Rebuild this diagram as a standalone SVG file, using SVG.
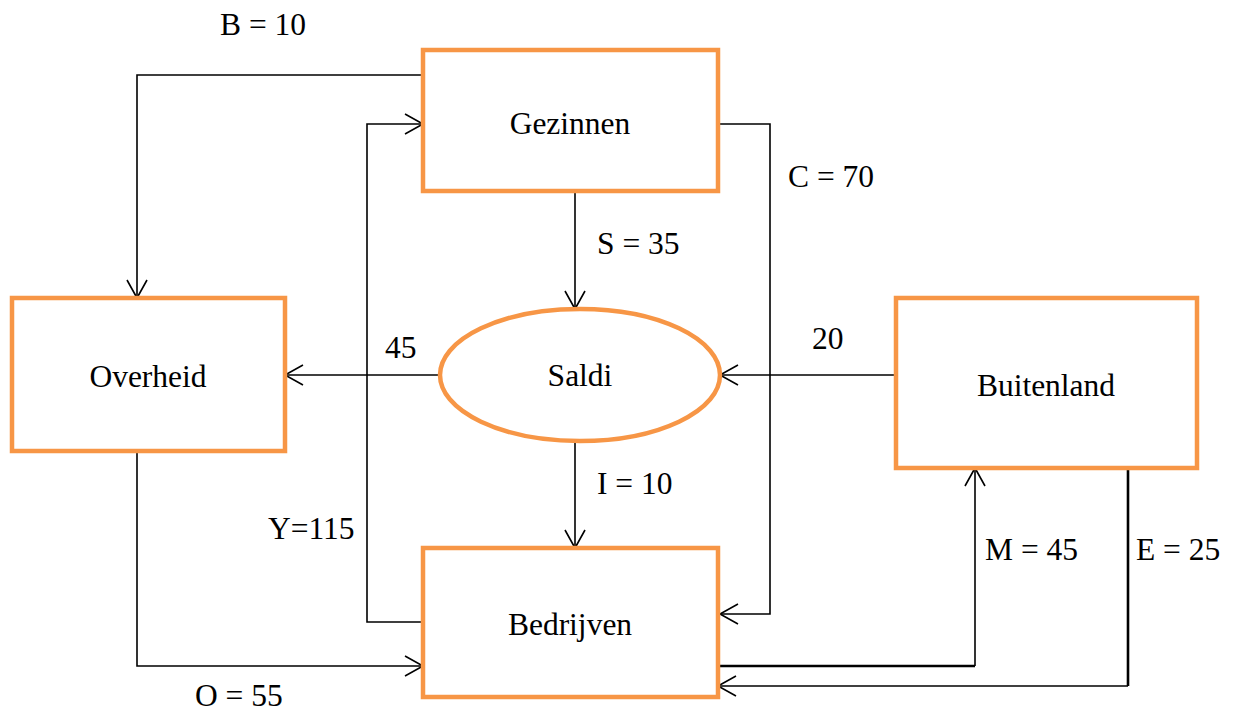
<svg xmlns="http://www.w3.org/2000/svg" width="1233" height="713" viewBox="0 0 1233 713">
<style>
.node{fill:#fff;stroke:#F79646;stroke-width:4.5}
.lbl{font-family:"Liberation Serif","Times New Roman",serif;font-size:31.5px;fill:#000}
.ctr{text-anchor:middle}
.c{fill:none;stroke:#000;stroke-width:1.6}
.t{stroke-width:2.6}
</style>
<defs>
<marker id="a" markerUnits="userSpaceOnUse" markerWidth="24" markerHeight="24" refX="20" refY="12" orient="auto">
<path d="M2,2 L20,12 L2,22" fill="none" stroke="#000" stroke-width="1.6"/>
</marker>
</defs>
<rect width="1233" height="713" fill="#fff"/>
<g id="connectors">
<polyline class="c" points="423,75 137,75 137,298" marker-end="url(#a)"/>
<polyline class="c" points="423,622 367,622 367,124 423,124" marker-end="url(#a)"/>
<polyline class="c" points="718,124 770,124 770,614 720,614" marker-end="url(#a)"/>
<polyline class="c" points="575,191 575,309" marker-end="url(#a)"/>
<polyline class="c" points="440,375 285,375" marker-end="url(#a)"/>
<polyline class="c" points="896,375 720,375" marker-end="url(#a)"/>
<polyline class="c" points="575,441 575,548" marker-end="url(#a)"/>
<polyline class="c" points="137,451 137,666 423,666" marker-end="url(#a)"/>
<polyline class="c t" points="718,666 975,666"/>
<polyline class="c" points="975,666 975,468" marker-end="url(#a)"/>
<polyline class="c t" points="1128,468 1128,686"/>
<polyline class="c" points="1128,686 718,686" marker-end="url(#a)"/>
</g>
<g id="gezinnen"><rect class="node" x="423" y="50" width="295" height="141"/><text class="lbl ctr" x="570" y="134">Gezinnen</text></g>
<g id="overheid"><rect class="node" x="12" y="298" width="273" height="153"/><text class="lbl ctr" x="148" y="387">Overheid</text></g>
<g id="saldi"><ellipse class="node" cx="580" cy="375" rx="140" ry="66"/><text class="lbl ctr" x="580" y="386">Saldi</text></g>
<g id="buitenland"><rect class="node" x="896" y="298" width="301" height="170"/><text class="lbl ctr" x="1046" y="396">Buitenland</text></g>
<g id="bedrijven"><rect class="node" x="423" y="548" width="295" height="149"/><text class="lbl ctr" x="570" y="635">Bedrijven</text></g>
<g id="labels">
<text class="lbl" x="220" y="35">B = 10</text>
<text class="lbl" x="788" y="187">C = 70</text>
<text class="lbl" x="597" y="254">S = 35</text>
<text class="lbl" x="385" y="358">45</text>
<text class="lbl" x="812" y="349">20</text>
<text class="lbl" x="597" y="494">I = 10</text>
<text class="lbl" x="268" y="539">Y=115</text>
<text class="lbl" x="985" y="560">M = 45</text>
<text class="lbl" x="1136" y="560">E = 25</text>
<text class="lbl" x="195" y="706">O = 55</text>
</g>
</svg>
